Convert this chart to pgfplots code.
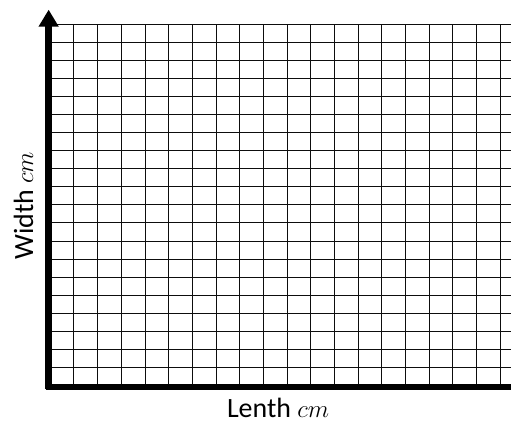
\documentclass[border=0pt]{standalone}
\usepackage{fontspec}
\setmainfont{Carlito}
\usepackage{pgfplots}
\pgfplotsset{compat=1.18}
\usetikzlibrary{arrows.meta}
\begin{document}
\begin{tikzpicture}
\begin{axis}[
  anchor=origin, at={(0,0)},
  scale only axis,
  width=460.7bp, height=361.6bp,
  xmin=0, xmax=19.455, ymin=0, ymax=20,
  xtick={0,...,19}, ytick={0,...,20},
  xticklabels={}, yticklabels={},
  tick style={draw=none},
  axis line style={draw=none},
  grid=major,
  major grid style={line width=1bp, black!95},
  clip=false,
]
\addplot[line width=6bp, black, line cap=butt] coordinates {(-0.2,-0.05) (19.455,-0.05)};
\addplot[line width=6.5bp, black, -{Triangle[width=19bp,length=17bp]}] coordinates {(-0.07,-0.21) (-0.07,20.8)};
\end{axis}
\node[rotate=90, anchor=base, font=\fontsize{28}{33}\selectfont] at (-17.3bp,180bp) {Width $cm$};
\node[anchor=base, font=\fontsize{28}{33}\selectfont] at (227.7bp,-32bp) {Lenth $cm$};
\pgfresetboundingbox
\useasboundingbox (-50.3bp,-38.3bp) rectangle (460.7bp,385.7bp);
\end{tikzpicture}
\end{document}
